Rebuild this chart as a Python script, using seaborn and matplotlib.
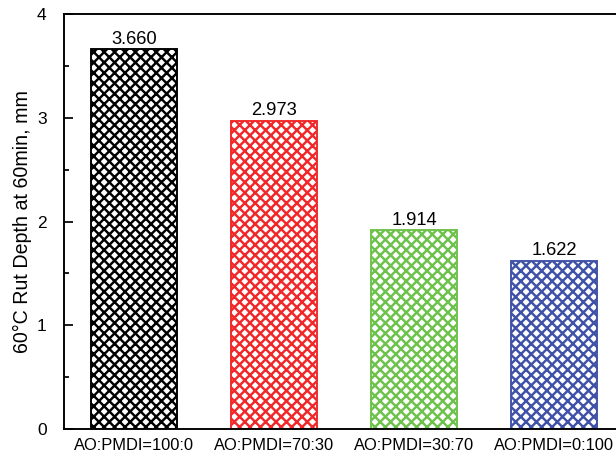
import pandas as pd
import matplotlib
matplotlib.use("Agg")
import matplotlib.pyplot as plt
import seaborn as sns
from matplotlib.ticker import MultipleLocator

# data
groups = ["AO:PMDI=100:0", "AO:PMDI=70:30", "AO:PMDI=30:70", "AO:PMDI=0:100"]
rut_depth = [3.660, 2.973, 1.914, 1.622]
colors = ["#000000", "#F0282A", "#6DC24B", "#3F52A8"]

df = pd.DataFrame({"group": groups, "rut": rut_depth})

sns.set_style("ticks")
plt.rcParams["font.family"] = ["Liberation Sans", "DejaVu Sans"]
plt.rcParams["hatch.linewidth"] = 1.4
plt.rcParams["text.color"] = "black"
plt.rcParams["axes.labelcolor"] = "black"
plt.rcParams["xtick.color"] = "black"
plt.rcParams["ytick.color"] = "black"

fig = plt.figure(figsize=(616 / 125, 456 / 125), dpi=125)
ax = fig.add_axes([64 / 616, 27 / 456, 560 / 616, 415 / 456])

sns.barplot(data=df, x="group", y="rut", hue="group", palette=colors,
            width=0.61, fill=False, linewidth=1.1, legend=False, ax=ax)

for patch, c in zip(ax.patches, colors):
    patch.set_hatch("xxxx")
    patch.set_edgecolor(c)

for cont in ax.containers:
    ax.bar_label(cont, fmt="%.3f", padding=1, fontsize=10.6, color="black")

ax.set_xlim(-0.5, 3.5)
ax.set_ylim(0, 4)
ax.yaxis.set_major_locator(MultipleLocator(1))
ax.yaxis.set_minor_locator(MultipleLocator(0.5))
ax.tick_params(axis="y", which="major", direction="in", length=5, width=1,
               labelsize=10, pad=10)
ax.tick_params(axis="y", which="minor", direction="in", length=3, width=1)
ax.tick_params(axis="x", length=0, labelsize=9.5, pad=5)

for s in ["left", "bottom", "top"]:
    ax.spines[s].set_visible(True)
    ax.spines[s].set_linewidth(1.1)
    ax.spines[s].set_color("black")
ax.spines["right"].set_visible(False)

ax.set_xlabel("")
ax.set_ylabel("60°C Rut Depth at 60min, mm", fontsize=11.3, labelpad=3)

fig.savefig("out.png", dpi=125)
